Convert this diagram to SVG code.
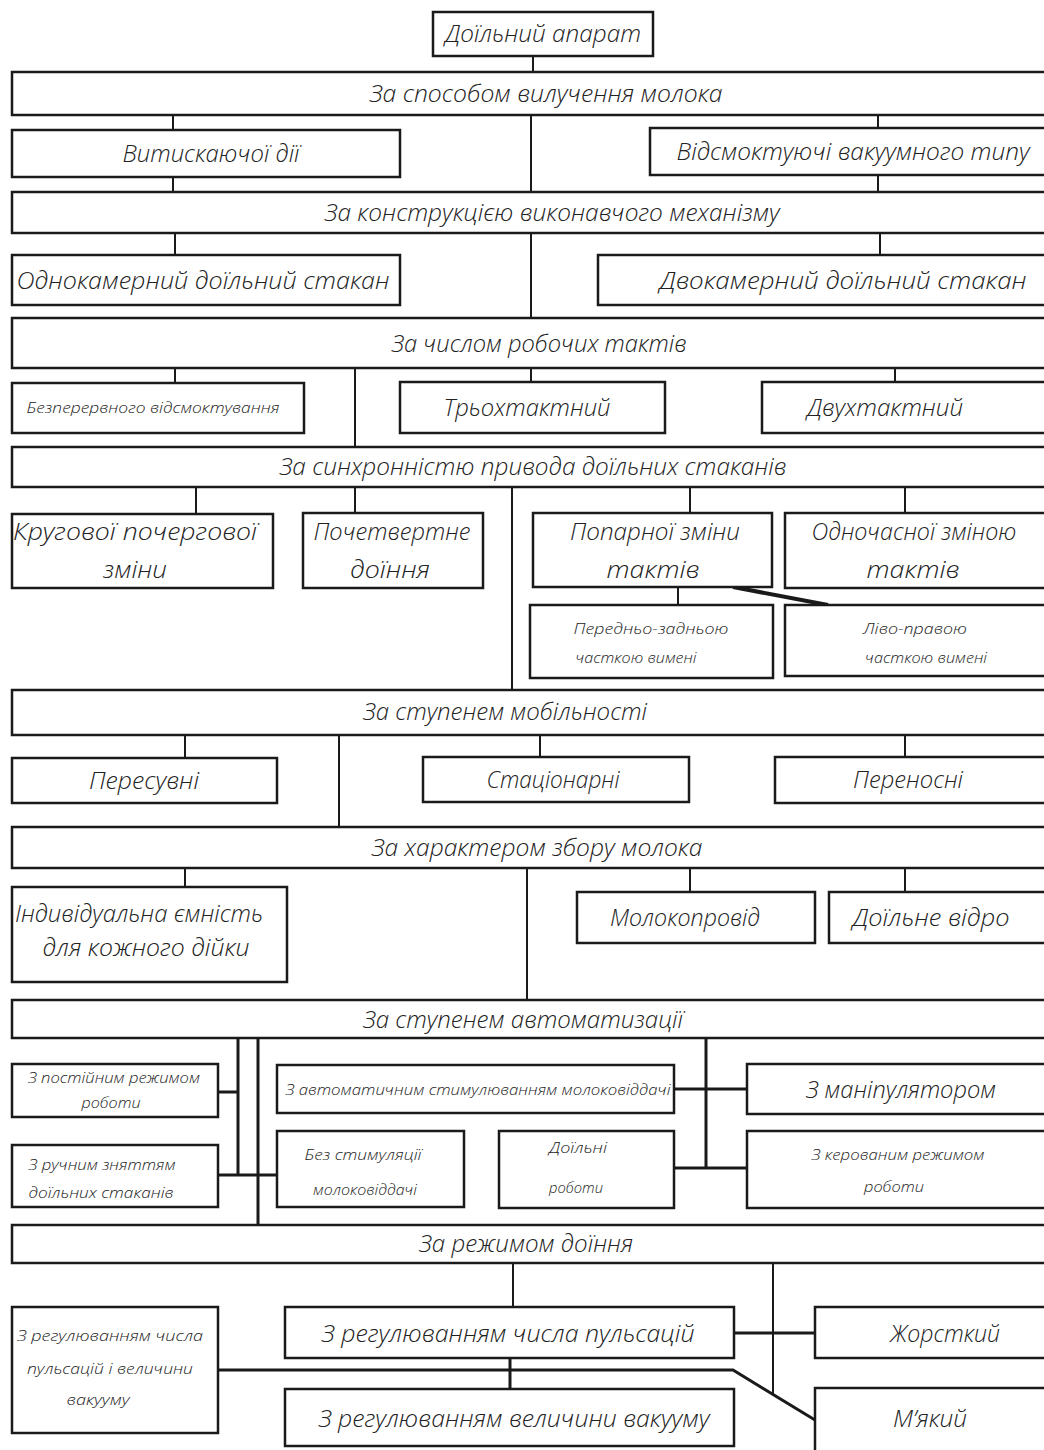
<svg xmlns="http://www.w3.org/2000/svg" width="1044" height="1450" viewBox="0 0 1044 1450">
<style>
.box{fill:#fff;stroke:#1a1a1a;stroke-width:2.5}
.ln{stroke:#1a1a1a;stroke-width:2;fill:none}
.lnb{stroke:#1a1a1a;stroke-width:3;fill:none}
text{font-family:"Open Sans","DejaVu Sans Condensed","Liberation Sans",sans-serif;font-style:italic;font-weight:300;fill:#222;text-anchor:middle}
.l{font-size:24px}
.s{font-size:15px}
.xs{font-size:14px}
</style>
<rect width="1044" height="1450" fill="#fff"/>
<g id="connectors">
<path class="ln" d="M533 56V72"/>
<path class="ln" d="M173 115V130M531 115V192M878 115V128M173 177V192M878 175V192"/>
<path class="ln" d="M175 233V255M531 233V318M880 233V255"/>
<path class="ln" d="M175 368V383M355 368V447M531 368V382M895 368V382"/>
<path class="ln" d="M196 487V514M355 487V513M690 487V513M905 487V513M512 487V690"/>
<path class="ln" d="M678 587V605"/>
<path d="M733 587L828 605" stroke="#1a1a1a" stroke-width="4" fill="none"/>
<path class="ln" d="M185 735V758M339 735V827M540 735V757M905 735V757"/>
<path class="ln" d="M185 868V887M527 868V1000M690 868V892M905 868V892"/>
<path class="lnb" d="M238 1038V1175M258 1038V1225M218 1092H238M218 1175H277"/>
<path class="lnb" d="M706 1038V1168M674 1089H747M674 1168H747"/>
<path class="ln" d="M513 1263V1307M773 1263V1394"/>
<path class="lnb" d="M734 1333H815M510 1358V1389"/>
<path class="lnb" d="M218 1370H733L815 1420"/>
</g>
<g id="n1"><rect class="box" x="433" y="12" width="220" height="44"/><text class="l" x="543" y="42" textLength="196" lengthAdjust="spacingAndGlyphs">Доїльний апарат</text></g>
<g id="n2"><rect class="box" x="12" y="72" width="1040" height="43"/><text class="l" x="546" y="102" textLength="353" lengthAdjust="spacingAndGlyphs">За способом вилучення молока</text></g>
<g id="n3"><rect class="box" x="12" y="130" width="388" height="47"/><text class="l" x="211" y="162" textLength="177" lengthAdjust="spacingAndGlyphs">Витискаючої дії</text></g>
<g id="n4"><rect class="box" x="650" y="128" width="402" height="47"/><text class="l" x="853" y="160" textLength="353" lengthAdjust="spacingAndGlyphs">Відсмоктуючі вакуумного типу</text></g>
<g id="n5"><rect class="box" x="12" y="192" width="1040" height="41"/><text class="l" x="552" y="221" textLength="455" lengthAdjust="spacingAndGlyphs">За конструкцією виконавчого механізму</text></g>
<g id="n6"><rect class="box" x="12" y="255" width="388" height="50"/><text class="l" x="203" y="289" textLength="373" lengthAdjust="spacingAndGlyphs">Однокамерний доїльний стакан</text></g>
<g id="n7"><rect class="box" x="598" y="255" width="454" height="50"/><text class="l" x="843" y="289" textLength="367" lengthAdjust="spacingAndGlyphs">Двокамерний доїльний стакан</text></g>
<g id="n8"><rect class="box" x="12" y="318" width="1040" height="50"/><text class="l" x="539" y="352" textLength="295" lengthAdjust="spacingAndGlyphs">За числом робочих тактів</text></g>
<g id="n9"><rect class="box" x="12" y="383" width="292" height="50"/><text class="s" x="153" y="413" textLength="253" lengthAdjust="spacingAndGlyphs">Безперервного відсмоктування</text></g>
<g id="n10"><rect class="box" x="400" y="382" width="265" height="51"/><text class="l" x="527" y="416" textLength="167" lengthAdjust="spacingAndGlyphs">Трьохтактний</text></g>
<g id="n11"><rect class="box" x="762" y="382" width="290" height="51"/><text class="l" x="885" y="416" textLength="156" lengthAdjust="spacingAndGlyphs">Двухтактний</text></g>
<g id="n12"><rect class="box" x="12" y="447" width="1040" height="40"/><text class="l" x="533" y="475" textLength="507" lengthAdjust="spacingAndGlyphs">За синхронністю привода доїльних стаканів</text></g>
<g id="n13"><rect class="box" x="12" y="514" width="261" height="74"/><text class="l" x="135" y="540" textLength="244" lengthAdjust="spacingAndGlyphs">Кругової почергової</text><text class="l" x="135" y="578" textLength="64" lengthAdjust="spacingAndGlyphs">зміни</text></g>
<g id="n14"><rect class="box" x="303" y="513" width="180" height="75"/><text class="l" x="392" y="540" textLength="157" lengthAdjust="spacingAndGlyphs">Почетвертне</text><text class="l" x="390" y="578" textLength="80" lengthAdjust="spacingAndGlyphs">доїння</text></g>
<g id="n15"><rect class="box" x="533" y="513" width="239" height="74"/><text class="l" x="655" y="540" textLength="170" lengthAdjust="spacingAndGlyphs">Попарної зміни</text><text class="l" x="653" y="578" textLength="93" lengthAdjust="spacingAndGlyphs">тактів</text></g>
<g id="n16"><rect class="box" x="785" y="513" width="267" height="75"/><text class="l" x="914" y="540" textLength="205" lengthAdjust="spacingAndGlyphs">Одночасної зміною</text><text class="l" x="913" y="578" textLength="93" lengthAdjust="spacingAndGlyphs">тактів</text></g>
<g id="n17"><rect class="box" x="530" y="605" width="243" height="73"/><text class="xs" x="651" y="634" textLength="155" lengthAdjust="spacingAndGlyphs">Передньо-задньою</text><text class="xs" x="636" y="663" textLength="121" lengthAdjust="spacingAndGlyphs">часткою вимені</text></g>
<g id="n18"><rect class="box" x="785" y="605" width="267" height="71"/><text class="xs" x="915" y="634" textLength="104" lengthAdjust="spacingAndGlyphs">Ліво-правою</text><text class="xs" x="926" y="663" textLength="122" lengthAdjust="spacingAndGlyphs">часткою вимені</text></g>
<g id="n19"><rect class="box" x="12" y="690" width="1040" height="45"/><text class="l" x="505" y="720" textLength="284" lengthAdjust="spacingAndGlyphs">За ступенем мобільності</text></g>
<g id="n20"><rect class="box" x="12" y="758" width="265" height="45"/><text class="l" x="144" y="789" textLength="110" lengthAdjust="spacingAndGlyphs">Пересувні</text></g>
<g id="n21"><rect class="box" x="423" y="757" width="266" height="45"/><text class="l" x="553" y="788" textLength="133" lengthAdjust="spacingAndGlyphs">Стаціонарні</text></g>
<g id="n22"><rect class="box" x="775" y="757" width="277" height="46"/><text class="l" x="908" y="788" textLength="110" lengthAdjust="spacingAndGlyphs">Переносні</text></g>
<g id="n23"><rect class="box" x="12" y="827" width="1040" height="41"/><text class="l" x="537" y="856" textLength="331" lengthAdjust="spacingAndGlyphs">За характером збору молока</text></g>
<g id="n24"><rect class="box" x="12" y="887" width="275" height="95"/><text class="l" x="139" y="922" textLength="248" lengthAdjust="spacingAndGlyphs">Індивідуальна ємність</text><text class="l" x="146" y="956" textLength="207" lengthAdjust="spacingAndGlyphs">для кожного дійки</text></g>
<g id="n25"><rect class="box" x="577" y="892" width="238" height="51"/><text class="l" x="685" y="926" textLength="150" lengthAdjust="spacingAndGlyphs">Молокопровід</text></g>
<g id="n26"><rect class="box" x="829" y="892" width="223" height="51"/><text class="l" x="931" y="926" textLength="157" lengthAdjust="spacingAndGlyphs">Доїльне відро</text></g>
<g id="n27"><rect class="box" x="12" y="1000" width="1040" height="38"/><text class="l" x="523" y="1028" textLength="320" lengthAdjust="spacingAndGlyphs">За ступенем автоматизації</text></g>
<g id="n28"><rect class="box" x="12" y="1064" width="206" height="53"/><text class="xs" x="114" y="1083" textLength="172" lengthAdjust="spacingAndGlyphs">З постійним режимом</text><text class="xs" x="111" y="1108" textLength="59" lengthAdjust="spacingAndGlyphs">роботи</text></g>
<g id="n29"><rect class="box" x="277" y="1065" width="397" height="48"/><text class="s" x="478" y="1095" textLength="385" lengthAdjust="spacingAndGlyphs">З автоматичним стимулюванням молоковіддачі</text></g>
<g id="n30"><rect class="box" x="747" y="1064" width="305" height="50"/><text class="l" x="901" y="1098" textLength="190" lengthAdjust="spacingAndGlyphs">З маніпулятором</text></g>
<g id="n31"><rect class="box" x="12" y="1145" width="206" height="62"/><text class="xs" x="102" y="1170" textLength="147" lengthAdjust="spacingAndGlyphs">З ручним зняттям</text><text class="xs" x="101" y="1198" textLength="145" lengthAdjust="spacingAndGlyphs">доїльних стаканів</text></g>
<g id="n32"><rect class="box" x="277" y="1131" width="187" height="76"/><text class="s" x="363" y="1160" textLength="117" lengthAdjust="spacingAndGlyphs">Без стимуляції</text><text class="s" x="365" y="1195" textLength="104" lengthAdjust="spacingAndGlyphs">молоковіддачі</text></g>
<g id="n33"><rect class="box" x="499" y="1131" width="175" height="77"/><text class="s" x="578" y="1153" textLength="58" lengthAdjust="spacingAndGlyphs">Доїльні</text><text class="s" x="576" y="1193" textLength="54" lengthAdjust="spacingAndGlyphs">роботи</text></g>
<g id="n34"><rect class="box" x="747" y="1131" width="305" height="77"/><text class="s" x="898" y="1160" textLength="173" lengthAdjust="spacingAndGlyphs">З керованим режимом</text><text class="s" x="894" y="1192" textLength="60" lengthAdjust="spacingAndGlyphs">роботи</text></g>
<g id="n35"><rect class="box" x="12" y="1225" width="1040" height="38"/><text class="l" x="526" y="1252" textLength="214" lengthAdjust="spacingAndGlyphs">За режимом доїння</text></g>
<g id="n36"><rect class="box" x="12" y="1307" width="206" height="126"/><text class="xs" x="110" y="1341" textLength="186" lengthAdjust="spacingAndGlyphs">З регулюванням числа</text><text class="xs" x="110" y="1374" textLength="166" lengthAdjust="spacingAndGlyphs">пульсацій і величини</text><text class="xs" x="98" y="1405" textLength="63" lengthAdjust="spacingAndGlyphs">вакууму</text></g>
<g id="n37"><rect class="box" x="285" y="1307" width="449" height="51"/><text class="l" x="508" y="1342" textLength="373" lengthAdjust="spacingAndGlyphs">З регулюванням числа пульсацій</text></g>
<g id="n38"><rect class="box" x="815" y="1307" width="237" height="51"/><text class="l" x="945" y="1342" textLength="110" lengthAdjust="spacingAndGlyphs">Жорсткий</text></g>
<g id="n39"><rect class="box" x="285" y="1389" width="449" height="57"/><text class="l" x="514" y="1427" textLength="391" lengthAdjust="spacingAndGlyphs">З регулюванням величини вакууму</text></g>
<g id="n40"><rect class="box" x="815" y="1388" width="237" height="70"/><text class="l" x="930" y="1427" textLength="74" lengthAdjust="spacingAndGlyphs">М’який</text></g>
</svg>
